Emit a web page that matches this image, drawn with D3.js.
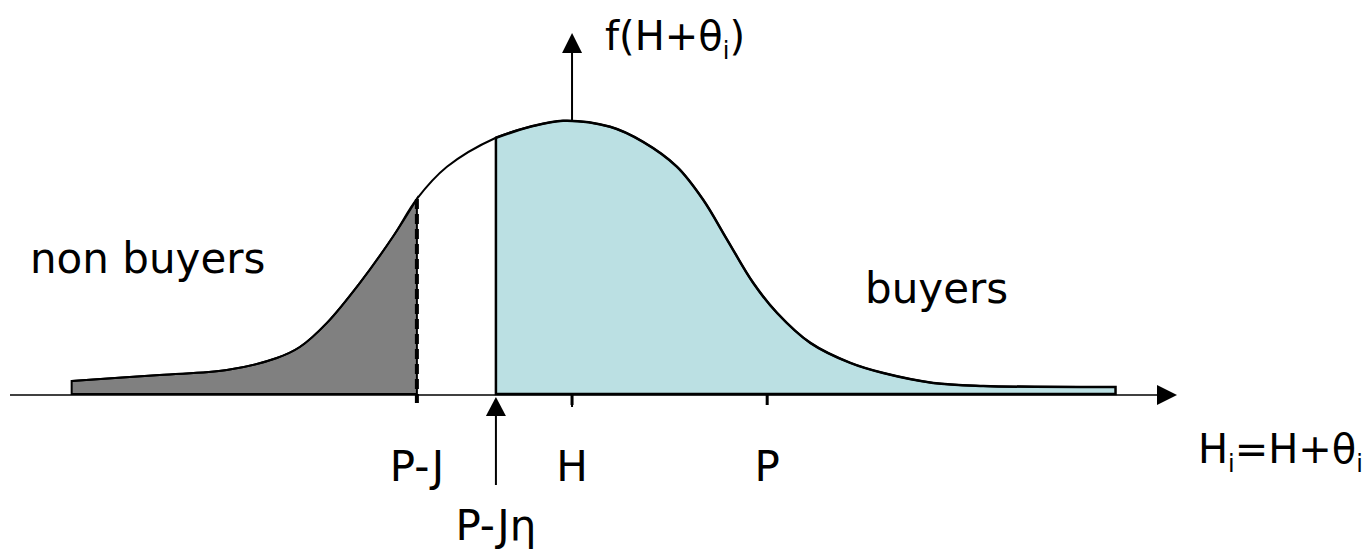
<!DOCTYPE html>
<html>
<head>
<meta charset="utf-8">
<script src="https://cdn.jsdelivr.net/npm/d3@7"></script>
<style>
  body { margin: 0; background: #fff; }
  svg { display: block; }
  text { font-family: "Comic Sans MS", "DejaVu Sans", sans-serif; fill: #000; }
</style>
</head>
<body>
<svg id="chart" width="1365" height="551"></svg>
<script>
// density f(H+theta); x in units of (P - H), H = 0, P = 1
const curveX = [-2.564, -2.113, -1.769, -1.513, -1.395, -1.256, -1.087, -0.918, -0.795,
  -0.641, -0.39, -0.215, -0.046, 0.195, 0.364, 0.538, 0.672, 0.795, 0.928, 1.051,
  1.221, 1.426, 1.595, 1.851, 2.108, 2.785];
const curveY = [0.051, 0.073, 0.091, 0.135, 0.175, 0.263, 0.409, 0.577, 0.715,
  0.832, 0.938, 0.978, 1.0, 0.978, 0.923, 0.832, 0.712, 0.566, 0.409, 0.299,
  0.19, 0.117, 0.08, 0.044, 0.033, 0.029];

const cutNonBuyers = -0.795; // P-J
const cutBuyers = -0.39;     // P-J eta
const tickValues = [-0.795, 0, 1];
const tickLabels = ["P-J", "H", "P"];

const svg = d3.select("#chart");

const x = d3.scaleLinear().domain([-2.88, 3.1]).range([10, 1177]);
const y = d3.scaleLinear().domain([0, 1.32]).range([395, 33]);

const data = curveX.map((v, i) => ({ x: v, y: curveY[i] }));
const smooth = d3.curveCatmullRom.alpha(0.5);

// y axis (drawn under the areas)
svg.append("line")
  .attr("x1", x(0)).attr("x2", x(0))
  .attr("y1", y(0) + 12).attr("y2", y(1.32) + 18)
  .attr("stroke", "#000").attr("stroke-width", 2);
svg.append("path")
  .attr("d", `M${x(0)},${y(1.32)} L${x(0) - 10},${y(1.32) + 20} L${x(0) + 10},${y(1.32) + 20} Z`)
  .attr("fill", "#000");

// x axis
svg.append("line")
  .attr("x1", x(-2.88)).attr("x2", x(3.1) - 18)
  .attr("y1", y(0)).attr("y2", y(0))
  .attr("stroke", "#000").attr("stroke-width", 1.5);
svg.append("path")
  .attr("d", `M${x(3.1)},${y(0)} L${x(3.1) - 20},${y(0) - 10} L${x(3.1) - 20},${y(0) + 10} Z`)
  .attr("fill", "#000");

const area = d3.area()
  .x((d) => x(d.x))
  .y0(y(0) - 1)
  .y1((d) => y(d.y))
  .curve(smooth);

const line = d3.line()
  .x((d) => x(d.x))
  .y((d) => y(d.y))
  .curve(smooth);

// non buyers
svg.append("path")
  .datum(data.filter((d) => d.x <= cutNonBuyers))
  .attr("d", (d) => area(d) + "Z")
  .attr("fill", "#808080")
  .attr("stroke", "#000")
  .attr("stroke-width", 2);

// buyers
svg.append("path")
  .datum(data.filter((d) => d.x >= cutBuyers))
  .attr("d", (d) => area(d) + "Z")
  .attr("fill", "#bbe0e3")
  .attr("stroke", "#000")
  .attr("stroke-width", 2.5);

svg.append("path")
  .datum(data)
  .attr("d", line)
  .attr("fill", "none")
  .attr("stroke", "#000")
  .attr("stroke-width", 2);

// dashed P-J line
const yCut = y(curveY[curveX.indexOf(cutNonBuyers)]);
svg.append("line")
  .attr("x1", x(cutNonBuyers)).attr("x2", x(cutNonBuyers))
  .attr("y1", yCut).attr("y2", y(0) + 8)
  .attr("stroke", "#000").attr("stroke-width", 4)
  .attr("stroke-dasharray", "10,5");

// ticks at H and P
svg.selectAll(".tick")
  .data(tickValues.slice(1))
  .enter()
  .append("line")
  .attr("class", "tick")
  .attr("x1", (d) => x(d)).attr("x2", (d) => x(d))
  .attr("y1", y(0)).attr("y2", y(0) + 10)
  .attr("stroke", "#000").attr("stroke-width", 3);

// arrow pointing at P-J eta
svg.append("line")
  .attr("x1", x(cutBuyers)).attr("x2", x(cutBuyers))
  .attr("y1", y(0) + 90).attr("y2", y(0) + 18)
  .attr("stroke", "#000").attr("stroke-width", 2);
svg.append("path")
  .attr("d", `M${x(cutBuyers)},${y(0) + 2} L${x(cutBuyers) - 10},${y(0) + 21} L${x(cutBuyers) + 10},${y(0) + 21} Z`)
  .attr("fill", "#000");

// tick labels
svg.selectAll(".lab")
  .data(tickValues)
  .enter()
  .append("text")
  .attr("class", "lab")
  .attr("x", (d) => x(d))
  .attr("y", 481)
  .attr("text-anchor", "middle")
  .style("font-size", "42px")
  .text((d, i) => tickLabels[i]);

svg.append("text")
  .attr("x", x(cutBuyers))
  .attr("y", 540)
  .attr("text-anchor", "middle")
  .style("font-size", "42px")
  .text("P-Jη");

svg.append("text")
  .attr("x", 30).attr("y", 273)
  .style("font-size", "42px")
  .text("non buyers");

svg.append("text")
  .attr("x", 865).attr("y", 303)
  .style("font-size", "42px")
  .text("buyers");

// axis titles with subscripts
const ylab = svg.append("text")
  .attr("x", 605).attr("y", 50)
  .style("font-size", "40px");
ylab.append("tspan").text("f(H+θ");
ylab.append("tspan").attr("dy", 9).style("font-size", "24px").text("i");
ylab.append("tspan").attr("dy", -9).text(")");

const xlab = svg.append("text")
  .attr("x", 1198).attr("y", 463)
  .style("font-size", "40px");
xlab.append("tspan").text("H");
xlab.append("tspan").attr("dy", 9).style("font-size", "24px").text("i");
xlab.append("tspan").attr("dy", -9).text("=H+θ");
xlab.append("tspan").attr("dy", 9).style("font-size", "24px").text("i");
</script>
</body>
</html>
